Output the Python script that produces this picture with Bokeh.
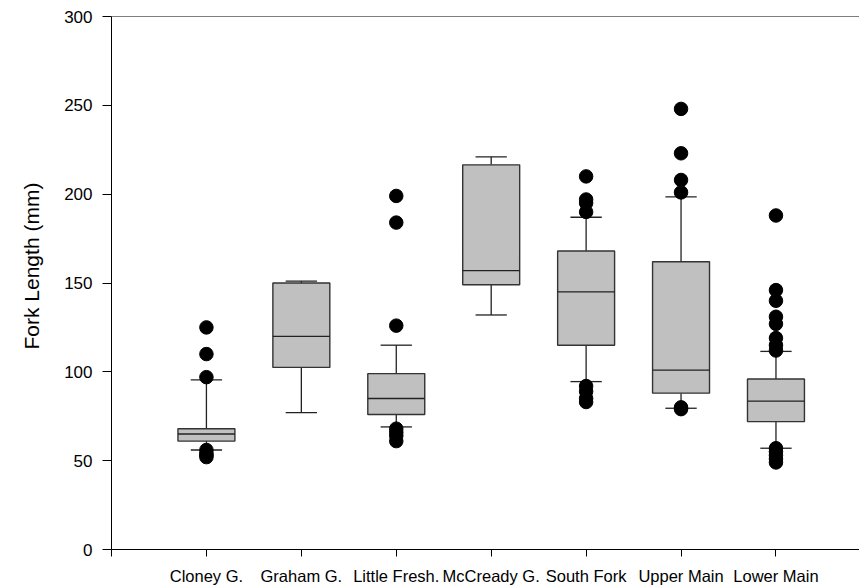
from bokeh.plotting import figure
from bokeh.models import Range1d, FixedTicker, Span, Title, ColumnDataSource
from bokeh.embed import file_html
from bokeh.resources import INLINE

# ---- data ----
categories = ["Cloney G.", "Graham G.", "Little Fresh.", "McCready G.",
              "South Fork", "Upper Main", "Lower Main"]
q1 = [61, 102.5, 76, 149, 115, 88, 72]
median = [65, 120, 85, 157, 145, 101, 83.5]
q3 = [68, 150, 99, 216.5, 168, 162, 96]
whisker_low = [56, 77, 69, 132, 94.5, 79.5, 57]
whisker_high = [95.5, 151, 115, 221, 187, 198.5, 111.5]
outliers = [
    [125, 110, 97, 56, 54, 53, 52],
    [],
    [199, 184, 126, 68, 66, 64, 61],
    [],
    [210, 197, 195, 190, 92, 89, 85, 83],
    [248, 223, 208, 201, 80, 79],
    [188, 146, 140, 131, 127, 119, 115, 112, 57, 55, 53, 51, 49],
]
y_ticks = [0, 50, 100, 150, 200, 250, 300]
y_title = "Fork Length (mm)"

FONT = "Liberation Sans"
pos = [i + 1 for i in range(len(categories))]

p = figure(width=859, height=587, output_backend="svg", toolbar_location=None,
           x_range=Range1d(0, 7.88), y_range=Range1d(0, 300))
p.min_border_left = 110
p.min_border_right = 0
p.min_border_top = 16
p.min_border_bottom = 38
p.outline_line_color = None
p.grid.visible = False
p.background_fill_color = "white"
p.border_fill_color = "white"

# boxes
box_src = ColumnDataSource(dict(x=pos, q1=q1, q3=q3, med=median,
                                lo=whisker_low, hi=whisker_high,
                                xl=[x - 0.3 for x in pos], xr=[x + 0.3 for x in pos],
                                cl=[x - 0.165 for x in pos], cr=[x + 0.165 for x in pos]))
line_col = "#222222"
p.segment(x0="x", y0="q3", x1="x", y1="hi", source=box_src, line_color=line_col, line_width=1.3)
p.segment(x0="x", y0="lo", x1="x", y1="q1", source=box_src, line_color=line_col, line_width=1.3)
p.vbar(x="x", width=0.6, bottom="q1", top="q3", source=box_src,
       fill_color="#c0c0c0", line_color="#333333", line_width=1.4)
p.segment(x0="xl", y0="med", x1="xr", y1="med", source=box_src, line_color=line_col, line_width=1.3)
p.segment(x0="cl", y0="hi", x1="cr", y1="hi", source=box_src, line_color=line_col, line_width=1.3)
p.segment(x0="cl", y0="lo", x1="cr", y1="lo", source=box_src, line_color=line_col, line_width=1.3)

# outliers
ox, oy = [], []
for x, vals in zip(pos, outliers):
    for v in vals:
        ox.append(x)
        oy.append(v)
p.scatter(ox, oy, size=13.5, fill_color="black", line_color="black")

# top border
p.add_layout(Span(location=300, dimension="width", line_color="black", line_width=1.2))

# axes
xa = p.xaxis[0]
xa.ticker = FixedTicker(ticks=[0] + pos)
xa.major_label_overrides = {0: ""} | {x: c for x, c in zip(pos, categories)}
xa.minor_tick_line_color = None
xa.major_tick_in = 0
xa.major_tick_out = 7
xa.major_label_standoff = 10
xa.major_label_text_font = FONT
xa.major_label_text_font_size = "16.5px"
xa.major_label_text_color = "black"
xa.axis_line_color = "black"
xa.major_tick_line_color = "black"

ya = p.yaxis[0]
ya.ticker = FixedTicker(ticks=y_ticks)
ya.minor_tick_line_color = None
ya.major_tick_in = 0
ya.major_tick_out = 9
ya.major_label_standoff = 10
ya.major_label_text_font = FONT
ya.major_label_text_font_size = "17px"
ya.major_label_text_color = "black"
ya.axis_line_color = "black"
ya.major_tick_line_color = "black"

p.add_layout(Title(text=y_title, align="left", offset=200, vertical_align="middle",
                   text_font=FONT, text_font_size="21px", text_font_style="normal",
                   text_color="black", standoff=36), "left")

open("out.html", "w").write(file_html(p, INLINE))
